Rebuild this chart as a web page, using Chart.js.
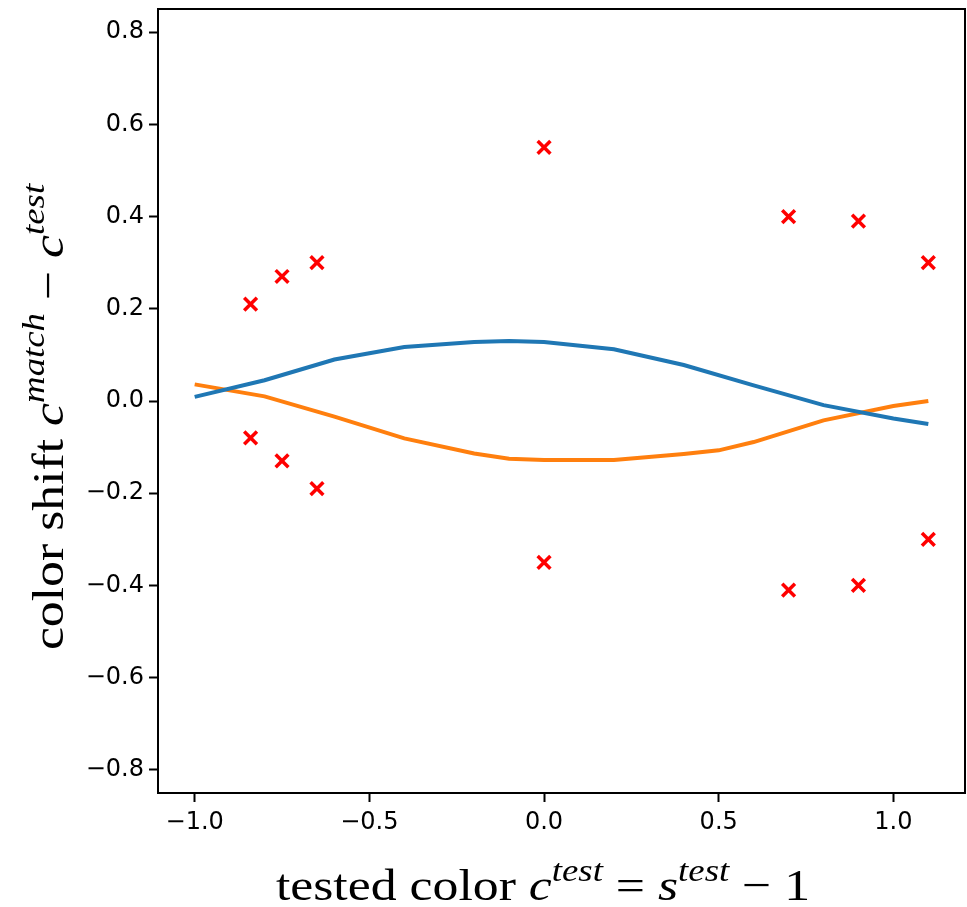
<!DOCTYPE html>
<html>
<head>
<meta charset="utf-8">
<script src="https://cdn.jsdelivr.net/npm/chart.js@4"></script>
<style>
  html, body { margin: 0; padding: 0; background: #fff; }
  #wrap { width: 967px; height: 907px; }
</style>
</head>
<body>
<div id="wrap"><canvas id="shift"></canvas></div>
<script>
// model curves
const blueX = [-1.0, -0.8, -0.6, -0.4, -0.2, -0.1, 0.0, 0.2, 0.4, 0.6, 0.8, 1.0, 1.1]
const blueY = [0.009, 0.045, 0.090, 0.117, 0.128, 0.130, 0.128, 0.112, 0.078, 0.034, -0.009, -0.038, -0.050]
const orangeX = [-1.0, -0.8, -0.6, -0.4, -0.2, -0.1, 0.0, 0.2, 0.4, 0.5, 0.6, 0.8, 1.0, 1.1]
const orangeY = [0.036, 0.010, -0.034, -0.081, -0.114, -0.125, -0.128, -0.128, -0.115, -0.107, -0.089, -0.042, -0.011, 0.000]

// measured points (red crosses)
const markX = [-0.84, -0.75, -0.65, 0.0, 0.7, 0.9, 1.1, -0.84, -0.75, -0.65, 0.0, 0.7, 0.9, 1.1]
const markY = [0.21, 0.27, 0.30, 0.55, 0.40, 0.39, 0.30, -0.08, -0.13, -0.19, -0.35, -0.41, -0.40, -0.30]

const xTicks = [-1.0, -0.5, 0.0, 0.5, 1.0]
const yTicks = [-0.8, -0.6, -0.4, -0.2, 0.0, 0.2, 0.4, 0.6, 0.8]

function pairs(xs, ys) {
  let pts = []
  for (let i = 0; i < xs.length; i++) {
    pts.push({ x: xs[i], y: ys[i] })
  }
  return pts
}

function fmt(v) {
  return (v < 0 ? '\u2212' : '') + Math.abs(v).toFixed(1)
}

const SERIF = '"Liberation Serif", "DejaVu Serif", serif'
const TITLE_SIZE = 45
const STRETCH = 1.15  // TeX fonts run wider than Times

// draws a list of [text, italic, superscript] runs centred on x
function drawRuns(ctx, runs, x, y, size) {
  const supSize = Math.round(size * 0.72)
  const setFont = r => { ctx.font = (r[1] ? 'italic ' : '') + (r[2] ? supSize : size) + 'px ' + SERIF }
  let widths = runs.map(r => { setFont(r); return ctx.measureText(r[0]).width })
  let total = widths.reduce((a, b) => a + b, 0)
  ctx.save()
  ctx.translate(x, y)
  ctx.scale(STRETCH, 1)
  let cx = -total / 2
  runs.forEach((r, i) => {
    setFont(r)
    ctx.fillText(r[0], cx, r[2] ? -size * 0.42 : 0)
    cx += widths[i]
  })
  ctx.restore()
}

const frameAndTitles = {
  id: 'frameAndTitles',
  afterDraw(chart) {
    const ctx = chart.ctx
    const a = chart.chartArea
    ctx.save()
    ctx.strokeStyle = '#000'
    ctx.lineWidth = 2
    ctx.strokeRect(a.left, a.top, a.right - a.left, a.bottom - a.top)

    ctx.fillStyle = '#000'
    ctx.textBaseline = 'alphabetic'
    drawRuns(ctx, [
      ['tested color ', false, false],
      ['c', true, false],
      ['test', true, true],
      [' = ', false, false],
      ['s', true, false],
      ['test', true, true],
      [' \u2212 1', false, false]
    ], 543, 900, TITLE_SIZE)

    ctx.translate(63, 417)
    ctx.rotate(-Math.PI / 2)
    drawRuns(ctx, [
      ['color shift ', false, false],
      ['c', true, false],
      ['match', true, true],
      [' \u2212 ', false, false],
      ['c', true, false],
      ['test', true, true]
    ], 0, 0, TITLE_SIZE)
    ctx.restore()
  }
}

const ctx = document.getElementById('shift').getContext('2d')
const chart = new Chart(ctx, {
  type: 'scatter',
  data: {
    datasets: [
      {
        type: 'line',
        data: pairs(blueX, blueY),
        borderColor: '#1f77b4',
        borderWidth: 4,
        pointRadius: 0,
        tension: 0,
        fill: false
      },
      {
        type: 'line',
        data: pairs(orangeX, orangeY),
        borderColor: '#ff7f0e',
        borderWidth: 4,
        pointRadius: 0,
        tension: 0,
        fill: false
      },
      {
        data: pairs(markX, markY),
        pointStyle: 'crossRot',
        pointRadius: 9,
        borderColor: '#ff0000',
        borderWidth: 3.5
      }
    ]
  },
  options: {
    responsive: true,
    maintainAspectRatio: false,
    animation: false,
    layout: { autoPadding: false, padding: { top: 9, right: 2, left: 0, bottom: 0 } },
    plugins: { legend: { display: false }, tooltip: { enabled: false } },
    scales: {
      x: {
        type: 'linear',
        min: -1.105,
        max: 1.205,
        afterBuildTicks: s => { s.ticks = xTicks.map(v => ({ value: v })) },
        afterFit: s => { s.height = 114; s.paddingLeft = 0; s.paddingRight = 0 },
        border: { display: true, color: '#000', width: 2 },
        grid: { drawOnChartArea: false, drawTicks: true, tickLength: 9, tickWidth: 2, tickColor: '#000' },
        ticks: {
          color: '#000',
          padding: 6,
          maxRotation: 0,
          font: { family: '"DejaVu Sans"', size: 24 },
          callback: v => fmt(v)
        }
      },
      y: {
        type: 'linear',
        min: -0.85,
        max: 0.85,
        afterBuildTicks: s => { s.ticks = yTicks.map(v => ({ value: v })) },
        afterFit: s => { s.width = 158; s.paddingTop = 0; s.paddingBottom = 0 },
        border: { display: true, color: '#000', width: 2 },
        grid: { drawOnChartArea: false, drawTicks: true, tickLength: 9, tickWidth: 2, tickColor: '#000' },
        ticks: {
          color: '#000',
          padding: 5,
          font: { family: '"DejaVu Sans"', size: 24 },
          callback: v => fmt(v)
        }
      }
    }
  },
  plugins: [frameAndTitles]
})
</script>
</body>
</html>
